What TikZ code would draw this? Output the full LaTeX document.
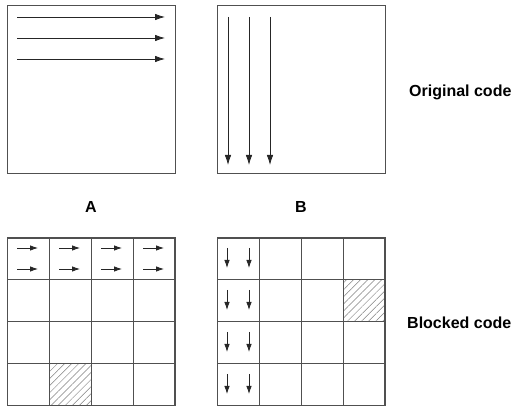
\documentclass[tikz,border=0pt]{standalone}
\usepackage{fontspec}
\setmainfont{Liberation Sans}
\usetikzlibrary{arrows.meta, patterns.meta}
\definecolor{edgegray}{HTML}{505050}

\begin{document}
\begin{tikzpicture}[x=1pt, y=1pt,
    square/.style={draw=edgegray, line width=1pt, minimum width=168pt, minimum height=168pt,
                   inner sep=0pt, outer sep=0pt},
    sweep/.style={-{Latex[length=10pt, width=6.5pt]}, line width=0.8pt, black!85},
    short/.style={-{Latex[length=8pt, width=5.5pt]}, line width=0.8pt, black!85},
    hatch/.style={pattern={Lines[angle=45, distance=5pt, line width=0.5pt]}, pattern color=gray},
    caption/.style={font=\bfseries\fontsize{16}{19}\selectfont}
]
\useasboundingbox (0,0) rectangle (517,407);

% original code
\node[square] (oa) at (91,317) {};
\node[square] (ob) at (301,317) {};
\draw[sweep] (17,390) -- (165,390);
\draw[sweep] (17,369) -- (165,369);
\draw[sweep] (17,348) -- (165,348);
\draw[sweep] (228,390) -- (228,242);
\draw[sweep] (249,390) -- (249,242);
\draw[sweep] (270,390) -- (270,242);

\node[caption, anchor=base] (la) at (91,194) {A};
\node[caption, anchor=base] (lb) at (301,194) {B};
\node[caption, anchor=base west, inner sep=0pt] (orig) at (409,310) {Original code};

% blocked code
\fill[hatch] (49,1) rectangle (91,43);
\fill[hatch] (343,85) rectangle (385,127);
\node[square] (ga) at (91,85) {};
\node[square] (gb) at (301,85) {};
\draw[edgegray, line width=1pt, shift={(ga.south west)}] (0,0) grid[step=42] (168,168);
\draw[edgegray, line width=1pt, shift={(gb.south west)}] (0,0) grid[step=42] (168,168);

\draw[short] (17,159) -- (38,159);
\draw[short] (17,138) -- (38,138);
\draw[short] (59,159) -- (80,159);
\draw[short] (59,138) -- (80,138);
\draw[short] (101,159) -- (122,159);
\draw[short] (101,138) -- (122,138);
\draw[short] (143,159) -- (164,159);
\draw[short] (143,138) -- (164,138);

\draw[short] (227,159) -- (227,139);
\draw[short] (249,159) -- (249,139);
\draw[short] (227,117) -- (227,97);
\draw[short] (249,117) -- (249,97);
\draw[short] (227,75) -- (227,55);
\draw[short] (249,75) -- (249,55);
\draw[short] (227,33) -- (227,13);
\draw[short] (249,33) -- (249,13);

\node[caption, anchor=base west, inner sep=0pt] (blk) at (407,78) {Blocked code};
\end{tikzpicture}
\end{document}
